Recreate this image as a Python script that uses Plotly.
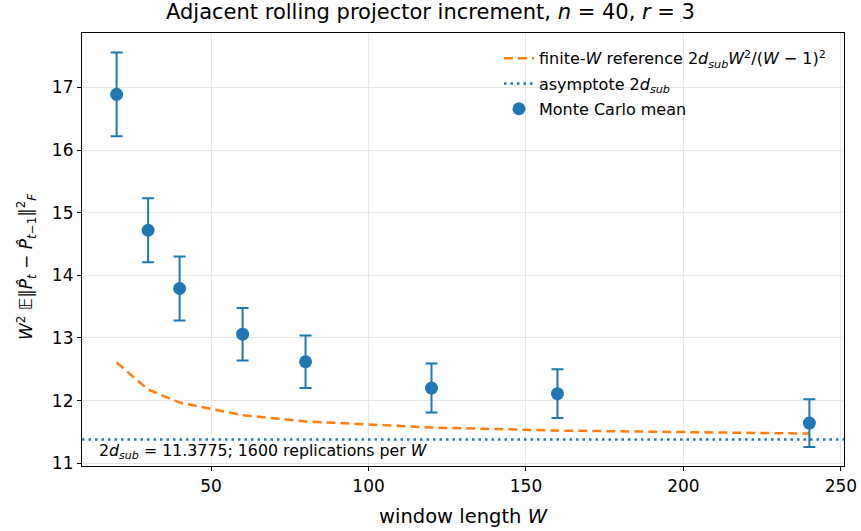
import plotly.graph_objects as go

W = [20, 30, 40, 60, 80, 120, 160, 240]
mc_mean = [16.89, 14.72, 13.79, 13.06, 12.62, 12.20, 12.11, 11.64]
mc_err = [0.67, 0.51, 0.51, 0.42, 0.42, 0.39, 0.39, 0.38]
ref_vals = [12.607, 12.176, 11.968, 11.766, 11.667, 11.570, 11.521, 11.473]
asymptote = 11.3775
x_ticks = [50, 100, 150, 200, 250]
y_ticks = [11, 12, 13, 14, 15, 16, 17]

BLUE = "#1f77b4"
ORANGE = "#ff7f0e"
FONT = "DejaVu Sans"

fig = go.Figure()
fig.add_trace(go.Scatter(
    x=W, y=ref_vals, mode="lines", legendgroup="a",
    line=dict(color=ORANGE, width=2.5, dash="9px,5px"),
    name="finite-<i>W</i> reference 2<i>d</i><sub><i>sub</i></sub><i>W</i><sup>2</sup>/(<i>W</i> − 1)<sup>2</sup>",
))
fig.add_trace(go.Scatter(
    x=[None], y=[None], mode="lines", legendgroup="b",
    line=dict(color=BLUE, width=2.5, dash="2.5px,4px"),
    name="asymptote 2<i>d</i><sub><i>sub</i></sub>",
))
fig.add_trace(go.Scatter(
    x=W, y=mc_mean, mode="markers", legendgroup="c",
    marker=dict(color=BLUE, size=13),
    error_y=dict(type="data", array=mc_err, color=BLUE, thickness=2, width=6),
    name="Monte Carlo mean",
))
fig.add_hline(y=asymptote, line=dict(color=BLUE, width=2.5, dash="2.5px,4px"), layer="above")

fig.add_annotation(
    xref="x domain", yref="y domain", x=0.02, y=0.004, xanchor="left", yanchor="bottom",
    text="2<i>d</i><sub><i>sub</i></sub> = 11.3775; 1600 replications per <i>W</i>",
    showarrow=False, font=dict(family=FONT, size=15.8, color="black"),
)

# y-axis title placed as a rotated annotation
fig.add_annotation(
    xref="paper", yref="paper", x=-0.0722, y=0.4596, xanchor="center", yanchor="middle",
    textangle=-90, showarrow=False,
    text="<i>W</i><sup>2</sup> 𝔼‖<i>P̂</i><sub><i>t</i></sub> − <i>P̂</i><sub><i>t</i>−1</sub>‖<sup>2</sup><sub><i>F</i></sub>",
    font=dict(family=FONT, size=17, color="black"),
)

axis_common = dict(
    showline=True, linecolor="black", linewidth=1.2, mirror=True,
    ticks="outside", ticklen=4, tickwidth=1, tickcolor="black",
    showgrid=True, gridcolor="#e6e6e6", gridwidth=1, zeroline=False,
    tickfont=dict(family=FONT, size=17, color="black"), automargin=False,
)
fig.update_xaxes(range=[9, 251], tickvals=x_ticks,
                 title=dict(text="window length <i>W</i>", font=dict(family=FONT, size=19.5, color="black"), standoff=14),
                 **axis_common)
fig.update_yaxes(range=[10.955, 17.87], tickvals=y_ticks, **axis_common)

fig.update_layout(
    width=861, height=531,
    margin=dict(l=82, r=17, t=33, b=65),
    paper_bgcolor="white", plot_bgcolor="white",
    font=dict(family=FONT, color="black"),
    title=dict(text="Adjacent rolling projector increment, <i>n</i> = 40, <i>r</i> = 3",
               x=0.5, xref="container", xanchor="center", y=0.9783, yref="container", yanchor="middle",
               font=dict(family=FONT, size=21, color="black")),
    showlegend=True,
    legend=dict(x=0.5472, y=0.981, xanchor="left", yanchor="top", bgcolor="rgba(0,0,0,0)",
                font=dict(family=FONT, size=16, color="black"), tracegroupgap=1.5),
)

fig.write_html("out.html", config={"displayModeBar": False},
               post_script="document.body.style.margin='0px';")
